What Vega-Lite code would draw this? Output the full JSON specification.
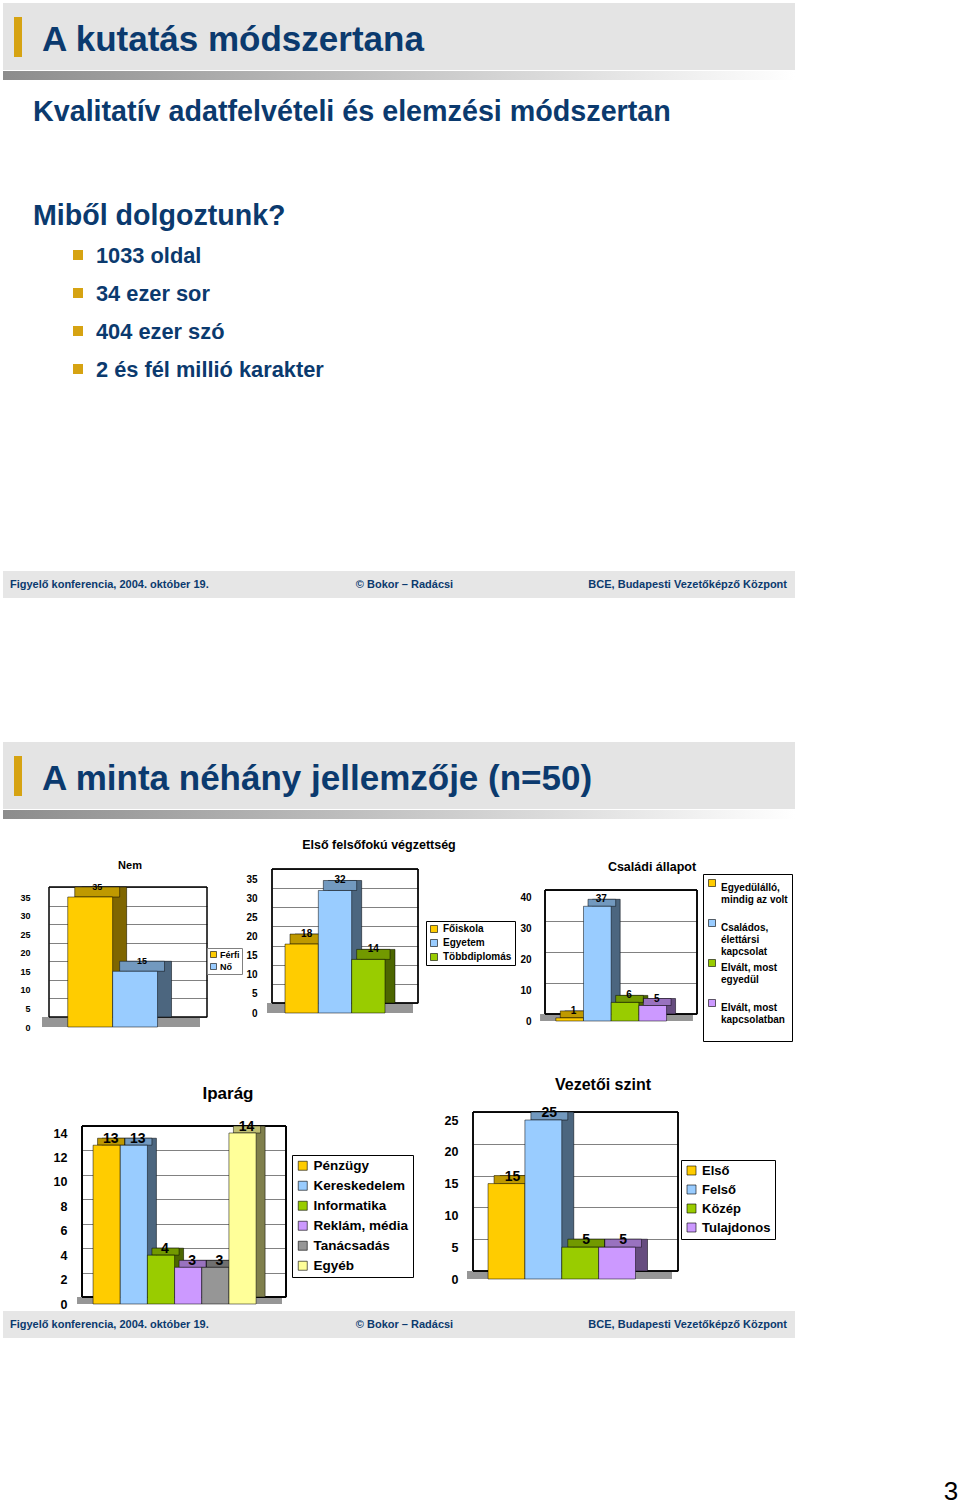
{
"$schema": "https://vega.github.io/schema/vega-lite/v6.json",
"background": "#FFFFFF",
"padding": 0,
"autosize": {"type": "pad"},
"spacing": 0,
"resolve": {"scale": {"color": "independent"}},
"config": {
  "font": "Liberation Sans",
  "view": {"stroke": null},
  "concat": {"spacing": 0},
  "axis": {"labelFont": "Liberation Sans", "labelFontWeight": "bold", "labelColor": "#000000", "gridColor": "#4A4A4A", "gridWidth": 0.7},
  "legend": {"labelFont": "Liberation Sans", "labelFontWeight": "bold", "labelColor": "#000000", "symbolType": "square", "symbolStrokeColor": "#000000", "symbolStrokeWidth": 0.6, "symbolOpacity": 1, "symbolFillOpacity": 1, "strokeColor": "#000000", "fillColor": "#FFFFFF", "labelOffset": 4},
  "title": {"font": "Liberation Sans", "fontWeight": "bold", "color": "#000000"}
},
"vconcat": [
  {"width": 795, "height": 3, "data": {"values": []}, "mark": "point"},
  {"hconcat": [
    {"width": 3, "height": 67, "data": {"values": []}, "mark": "point"},
    {"width": 11, "height": 67, "view": {"fill": "#E4E4E4", "stroke": null}, "data": {"values": []}, "mark": "point"},
    {"width": 8, "height": 67, "view": {"fill": "#E4E4E4", "stroke": null}, "data": {"values": [{"v": 1}]},
     "mark": {"type": "rect", "color": "#D6A312"},
     "encoding": {"y": {"field": "v", "type": "quantitative", "axis": null, "scale": {"domain": [0, 1], "range": [54, 14]}}, "y2": {"datum": 0}}},
    {"width": 773, "height": 67, "view": {"fill": "#E4E4E4", "stroke": null}, "data": {"values": []}, "mark": "point",
     "title": {"text": "A kutatás módszertana", "anchor": "start", "frame": "group", "dx": 20, "dy": 83, "offset": 0, "baseline": "alphabetic", "fontSize": 35, "fontWeight": "bold", "color": "#0B3A6E"}}
  ]},
  {"width": 795, "height": 1, "data": {"values": []}, "mark": "point"},
  {"hconcat": [
    {"width": 3, "height": 9, "data": {"values": []}, "mark": "point"},
    {"width": 792, "height": 9, "data": {"values": [{"sav": 1}]},
     "mark": {"type": "rect", "color": {"gradient": "linear", "x1": 0, "x2": 1, "y1": 0, "y2": 0, "stops": [{"offset": 0, "color": "#8C8C8C"}, {"offset": 1, "color": "#FFFFFF"}]}},
     "encoding": {}}
  ]},
  {"hconcat": [
    {"width": 3, "height": 491, "data": {"values": []}, "mark": "point"},
    {"width": 792, "height": 491,
     "title": {"text": "Kvalitatív adatfelvételi és elemzési módszertan", "anchor": "start", "frame": "group", "dx": 30, "dy": 70, "offset": 0, "baseline": "alphabetic", "fontSize": 28.7, "fontWeight": "bold", "color": "#0B3A6E"},
     "data": {"values": [
       {"sor": 0, "szint": 0, "szoveg": "Miből dolgoztunk?"},
       {"sor": 1, "szint": 1, "szoveg": "1033 oldal"},
       {"sor": 2, "szint": 1, "szoveg": "34 ezer sor"},
       {"sor": 3, "szint": 1, "szoveg": "404 ezer szó"},
       {"sor": 4, "szint": 1, "szoveg": "2 és fél millió karakter"}
     ]},
     "encoding": {
       "x": {"field": "szint", "type": "ordinal", "axis": null, "scale": {"type": "point", "domain": [0, 1], "range": [30, 93], "padding": 0}},
       "y": {"field": "sor", "type": "quantitative", "axis": null, "scale": {"domain": [0, 4], "range": [145, 297]}}
     },
     "layer": [
       {"transform": [{"filter": "datum.szint == 0"}], "mark": {"type": "text", "align": "left", "baseline": "alphabetic", "fontSize": 28.6, "fontWeight": "bold", "color": "#0B3A6E"}, "encoding": {"text": {"field": "szoveg"}}},
       {"transform": [{"filter": "datum.szint == 1"}], "mark": {"type": "text", "align": "left", "baseline": "alphabetic", "fontSize": 21.8, "fontWeight": "bold", "color": "#0B3A6E"}, "encoding": {"text": {"field": "szoveg"}}},
       {"transform": [{"filter": "datum.szint == 1"}], "mark": {"type": "square", "size": 100, "color": "#D6A312", "opacity": 1, "xOffset": -18, "yOffset": -8}}
     ]}
  ]},
  {"hconcat": [
    {"width": 3, "height": 27, "data": {"values": []}, "mark": "point"},
    {"width": 792, "height": 27, "view": {"fill": "#E6E6E6", "stroke": null},
     "data": {"values": [
       {"resz": "bal", "szoveg": "Figyelő konferencia, 2004. október 19."},
       {"resz": "közép", "szoveg": "© Bokor – Radácsi"},
       {"resz": "jobb", "szoveg": "BCE, Budapesti Vezetőképző Központ"}
     ]},
     "encoding": {"text": {"field": "szoveg"}},
     "layer": [
       {"transform": [{"filter": "datum.resz == 'bal'"}], "mark": {"type": "text", "align": "left", "baseline": "middle", "fontSize": 11, "fontWeight": "bold", "color": "#0B3A6E"},
        "encoding": {"x": {"field": "resz", "type": "nominal", "bandPosition": 0, "axis": null, "scale": {"type": "band", "domain": ["bal", "közép", "jobb"], "range": [7, 784], "paddingInner": 0, "paddingOuter": 0}}}},
       {"transform": [{"filter": "datum.resz == 'közép'"}], "mark": {"type": "text", "align": "center", "baseline": "middle", "xOffset": 6, "fontSize": 11, "fontWeight": "bold", "color": "#0B3A6E"},
        "encoding": {"x": {"field": "resz", "type": "nominal", "bandPosition": 0.5, "axis": null}}},
       {"transform": [{"filter": "datum.resz == 'jobb'"}], "mark": {"type": "text", "align": "right", "baseline": "middle", "fontSize": 11, "fontWeight": "bold", "color": "#0B3A6E"},
        "encoding": {"x": {"field": "resz", "type": "nominal", "bandPosition": 1, "axis": null}}}
     ]}
  ]},
  {"width": 795, "height": 144, "data": {"values": []}, "mark": "point"},
  {"hconcat": [
    {"width": 3, "height": 67, "data": {"values": []}, "mark": "point"},
    {"width": 11, "height": 67, "view": {"fill": "#E4E4E4", "stroke": null}, "data": {"values": []}, "mark": "point"},
    {"width": 8, "height": 67, "view": {"fill": "#E4E4E4", "stroke": null}, "data": {"values": [{"v": 1}]},
     "mark": {"type": "rect", "color": "#D6A312"},
     "encoding": {"y": {"field": "v", "type": "quantitative", "axis": null, "scale": {"domain": [0, 1], "range": [54, 14]}}, "y2": {"datum": 0}}},
    {"width": 773, "height": 67, "view": {"fill": "#E4E4E4", "stroke": null}, "data": {"values": []}, "mark": "point",
     "title": {"text": "A minta néhány jellemzője (n=50)", "anchor": "start", "frame": "group", "dx": 20, "dy": 83, "offset": 0, "baseline": "alphabetic", "fontSize": 35, "fontWeight": "bold", "color": "#0B3A6E"}}
  ]},
  {"width": 795, "height": 1, "data": {"values": []}, "mark": "point"},
  {"hconcat": [
    {"width": 3, "height": 9, "data": {"values": []}, "mark": "point"},
    {"width": 792, "height": 9, "data": {"values": [{"sav": 1}]},
     "mark": {"type": "rect", "color": {"gradient": "linear", "x1": 0, "x2": 1, "y1": 0, "y2": 0, "stops": [{"offset": 0, "color": "#8C8C8C"}, {"offset": 1, "color": "#FFFFFF"}]}},
     "encoding": {}}
  ]},
  {"hconcat": [
    {"width": 244, "height": 225,
     "title": {"text": "Nem", "frame": "group", "anchor": "middle", "fontSize": 11, "offset": 0, "dx": 8, "dy": 61, "baseline": "alphabetic"},
     "data": {"values": [{"kategoria": "Férfi", "fo": 35}, {"kategoria": "Nő", "fo": 15}]},
     "resolve": {"scale": {"x": "independent"}},
     "encoding": {"y": {"field": "fo", "type": "quantitative", "scale": {"domain": [0, 35], "nice": false, "range": [198, 68]},
       "axis": {"title": null, "values": [0, 5, 10, 15, 20, 25, 30, 35], "domain": false, "ticks": false, "offset": -35, "labelOffset": 10, "labelPadding": 5, "labelFontSize": 9, "grid": true}}},
     "layer": [
       {"encoding": {"x": {"datum": 0, "type": "quantitative", "axis": null, "scale": {"domain": [0, 1], "range": [49, 207]}}, "x2": {"datum": 1}},
        "layer": [
          {"mark": {"type": "rect", "color": "#969696", "xOffset": -7, "x2Offset": -7, "y2Offset": 10}, "encoding": {"y": {"datum": 0}, "y2": {"datum": 0}}},
          {"mark": {"type": "rect", "filled": false, "color": "#000000", "strokeWidth": 1}, "encoding": {"y": {"datum": 35}, "y2": {"datum": 0}}}
        ]},
       {"encoding": {
          "x": {"field": "kategoria", "type": "nominal", "sort": null, "axis": null, "scale": {"range": [49, 207], "paddingInner": 0, "paddingOuter": 0.76, "align": 0.48}},
          "color": {"field": "kategoria", "type": "nominal", "sort": null, "scale": {"domain": ["Férfi", "Nő"], "range": ["#FFCC00", "#99CCFF"]},
                    "legend": {"title": null, "orient": "none", "legendX": 207, "legendY": 129, "labelFontSize": 9, "symbolSize": 36, "rowPadding": 2, "padding": 2, "labelOffset": 2, "strokeColor": "#808080"}}},
        "layer": [
          {"mark": {"type": "bar"}},
          {"mark": {"type": "bar", "fillOpacity": 0.5, "stroke": "#000000", "strokeWidth": 0.5}, "encoding": {"color": {"value": "#000000"}}},
          {"mark": {"type": "bar", "xOffset": -7, "x2Offset": -7, "y2Offset": 10}, "encoding": {"y2": {"field": "fo"}}},
          {"mark": {"type": "bar", "fillOpacity": 0.25, "stroke": "#000000", "strokeWidth": 0.5, "xOffset": -7, "x2Offset": -7, "y2Offset": 10}, "encoding": {"y2": {"field": "fo"}, "color": {"value": "#000000"}}},
          {"mark": {"type": "bar", "stroke": "#000000", "strokeWidth": 0.5, "xOffset": -14, "x2Offset": -14, "yOffset": 10, "y2Offset": 10}},
          {"mark": {"type": "text", "fontSize": 9, "fontWeight": "bold", "dx": -7, "dy": 3, "baseline": "alphabetic"},
           "encoding": {"text": {"field": "fo", "type": "quantitative"}, "color": {"value": "#000000"}}}
        ]}
     ]},
    {"width": 274, "height": 225,
     "title": {"text": "Első felsőfokú végzettség", "frame": "group", "anchor": "middle", "fontSize": 12.5, "offset": 0, "dx": -2, "dy": 42.5, "baseline": "alphabetic"},
     "data": {"values": [{"kategoria": "Főiskola", "fo": 18}, {"kategoria": "Egyetem", "fo": 32}, {"kategoria": "Többdiplomás", "fo": 14}]},
     "resolve": {"scale": {"x": "independent"}},
     "encoding": {"y": {"field": "fo", "type": "quantitative", "scale": {"domain": [0, 35], "nice": false, "range": [184, 50]},
       "axis": {"title": null, "values": [0, 5, 10, 15, 20, 25, 30, 35], "domain": false, "ticks": false, "offset": -18, "labelOffset": 10, "labelPadding": 5, "labelFontSize": 10, "grid": true}}},
     "layer": [
       {"encoding": {"x": {"datum": 0, "type": "quantitative", "axis": null, "scale": {"domain": [0, 1], "range": [28, 174]}}, "x2": {"datum": 1}},
        "layer": [
          {"mark": {"type": "rect", "color": "#969696", "xOffset": -5, "x2Offset": -5, "y2Offset": 10}, "encoding": {"y": {"datum": 0}, "y2": {"datum": 0}}},
          {"mark": {"type": "rect", "filled": false, "color": "#000000", "strokeWidth": 1}, "encoding": {"y": {"datum": 35}, "y2": {"datum": 0}}}
        ]},
       {"encoding": {
          "x": {"field": "kategoria", "type": "nominal", "sort": null, "axis": null, "scale": {"range": [28, 174], "paddingInner": 0, "paddingOuter": 0.69, "align": 0.5}},
          "color": {"field": "kategoria", "type": "nominal", "sort": null, "scale": {"domain": ["Főiskola", "Egyetem", "Többdiplomás"], "range": ["#FFCC00", "#99CCFF", "#99CC00"]},
                    "legend": {"title": null, "orient": "none", "legendX": 182, "legendY": 102, "labelFontSize": 10, "symbolSize": 49, "rowPadding": 4, "padding": 3}}},
        "layer": [
          {"mark": {"type": "bar"}},
          {"mark": {"type": "bar", "fillOpacity": 0.5, "stroke": "#000000", "strokeWidth": 0.5}, "encoding": {"color": {"value": "#000000"}}},
          {"mark": {"type": "bar", "xOffset": -5, "x2Offset": -5, "y2Offset": 10}, "encoding": {"y2": {"field": "fo"}}},
          {"mark": {"type": "bar", "fillOpacity": 0.25, "stroke": "#000000", "strokeWidth": 0.5, "xOffset": -5, "x2Offset": -5, "y2Offset": 10}, "encoding": {"y2": {"field": "fo"}, "color": {"value": "#000000"}}},
          {"mark": {"type": "bar", "stroke": "#000000", "strokeWidth": 0.5, "xOffset": -10, "x2Offset": -10, "yOffset": 10, "y2Offset": 10}},
          {"mark": {"type": "text", "fontSize": 10, "fontWeight": "bold", "dx": -5, "dy": 3, "baseline": "alphabetic"},
           "encoding": {"text": {"field": "fo", "type": "quantitative"}, "color": {"value": "#000000"}}}
        ]}
     ]},
    {"width": 277, "height": 225,
     "title": {"text": "Családi állapot", "frame": "group", "anchor": "middle", "fontSize": 12.5, "offset": 0, "dx": -4.5, "dy": 64.5, "baseline": "alphabetic"},
     "data": {"values": [{"kategoria": "Egyedülálló, mindig az volt", "fo": 1}, {"kategoria": "Családos, élettársi kapcsolat", "fo": 37}, {"kategoria": "Elvált, most egyedül", "fo": 6}, {"kategoria": "Elvált, most kapcsolatban", "fo": 5}]},
     "resolve": {"scale": {"x": "independent"}},
     "encoding": {"y": {"field": "fo", "type": "quantitative", "scale": {"domain": [0, 40], "nice": false, "range": [195, 71]},
       "axis": {"title": null, "values": [0, 10, 20, 30, 40], "domain": false, "ticks": false, "offset": -18, "labelOffset": 7, "labelPadding": 5, "labelFontSize": 10, "grid": true}}},
     "layer": [
       {"encoding": {"x": {"datum": 0, "type": "quantitative", "axis": null, "scale": {"domain": [0, 1], "range": [27, 179]}}, "x2": {"datum": 1}},
        "layer": [
          {"mark": {"type": "rect", "color": "#969696", "xOffset": -4.5, "x2Offset": -4.5, "y2Offset": 7}, "encoding": {"y": {"datum": 0}, "y2": {"datum": 0}}},
          {"mark": {"type": "rect", "filled": false, "color": "#000000", "strokeWidth": 1}, "encoding": {"y": {"datum": 40}, "y2": {"datum": 0}}}
        ]},
       {"encoding": {
          "x": {"field": "kategoria", "type": "nominal", "sort": null, "axis": null, "scale": {"range": [27, 179], "paddingInner": 0, "paddingOuter": 0.745, "align": 0.48}},
          "color": {"field": "kategoria", "type": "nominal", "sort": null, "scale": {"domain": ["Egyedülálló, mindig az volt", "Családos, élettársi kapcsolat", "Elvált, most egyedül", "Elvált, most kapcsolatban"], "range": ["#FFCC00", "#99CCFF", "#99CC00", "#CC99FF"]},
                    "legend": {"title": null, "orient": "none", "legendX": 185, "legendY": 55, "labelFontSize": 10, "symbolSize": 49, "rowPadding": 1, "padding": 4, "labelBaseline": "top",
                               "labelExpr": "datum.label == 'Egyedülálló, mindig az volt' ? ['Egyedülálló,', 'mindig az volt', ''] : datum.label == 'Családos, élettársi kapcsolat' ? ['Családos,', 'élettársi', 'kapcsolat'] : datum.label == 'Elvált, most egyedül' ? ['Elvált, most', 'egyedül', ''] : ['Elvált, most', 'kapcsolatban', '']"}}},
        "layer": [
          {"mark": {"type": "bar"}},
          {"mark": {"type": "bar", "fillOpacity": 0.5, "stroke": "#000000", "strokeWidth": 0.5}, "encoding": {"color": {"value": "#000000"}}},
          {"mark": {"type": "bar", "xOffset": -4.5, "x2Offset": -4.5, "y2Offset": 7}, "encoding": {"y2": {"field": "fo"}}},
          {"mark": {"type": "bar", "fillOpacity": 0.25, "stroke": "#000000", "strokeWidth": 0.5, "xOffset": -4.5, "x2Offset": -4.5, "y2Offset": 7}, "encoding": {"y2": {"field": "fo"}, "color": {"value": "#000000"}}},
          {"mark": {"type": "bar", "stroke": "#000000", "strokeWidth": 0.5, "xOffset": -9, "x2Offset": -9, "yOffset": 7, "y2Offset": 7}},
          {"mark": {"type": "text", "fontSize": 10, "fontWeight": "bold", "dx": -5, "dy": 3, "baseline": "alphabetic"},
           "encoding": {"text": {"field": "fo", "type": "quantitative"}, "color": {"value": "#000000"}}}
        ]}
     ]}
  ], "resolve": {"scale": {"color": "independent"}}},
  {"hconcat": [
    {"width": 430, "height": 265,
     "title": {"text": "Iparág", "frame": "group", "anchor": "middle", "fontSize": 17, "offset": 0, "dx": 13, "dy": 72, "baseline": "alphabetic"},
     "data": {"values": [{"kategoria": "Pénzügy", "fo": 13}, {"kategoria": "Kereskedelem", "fo": 13}, {"kategoria": "Informatika", "fo": 4}, {"kategoria": "Reklám, média", "fo": 3}, {"kategoria": "Tanácsadás", "fo": 3}, {"kategoria": "Egyéb", "fo": 14}]},
     "resolve": {"scale": {"x": "independent"}},
     "encoding": {"y": {"field": "fo", "type": "quantitative", "scale": {"domain": [0, 14], "nice": false, "range": [253, 82]},
       "axis": {"title": null, "values": [0, 2, 4, 6, 8, 10, 12, 14], "domain": false, "ticks": false, "offset": -73, "labelOffset": 7, "labelPadding": 6, "labelFontSize": 12.5, "grid": true}}},
     "layer": [
       {"encoding": {"x": {"datum": 0, "type": "quantitative", "axis": null, "scale": {"domain": [0, 1], "range": [82, 286]}}, "x2": {"datum": 1}},
        "layer": [
          {"mark": {"type": "rect", "color": "#969696", "xOffset": -4.5, "x2Offset": -4.5, "y2Offset": 7}, "encoding": {"y": {"datum": 0}, "y2": {"datum": 0}}},
          {"mark": {"type": "rect", "filled": false, "color": "#000000", "strokeWidth": 1}, "encoding": {"y": {"datum": 14}, "y2": {"datum": 0}}}
        ]},
       {"encoding": {
          "x": {"field": "kategoria", "type": "nominal", "sort": null, "axis": null, "scale": {"range": [82, 286], "paddingInner": 0, "paddingOuter": 0.754, "align": 0.49}},
          "color": {"field": "kategoria", "type": "nominal", "sort": null, "scale": {"domain": ["Pénzügy", "Kereskedelem", "Informatika", "Reklám, média", "Tanácsadás", "Egyéb"], "range": ["#FFCC00", "#99CCFF", "#99CC00", "#CC99FF", "#969696", "#FFFF99"]},
                    "legend": {"title": null, "orient": "none", "legendX": 292, "legendY": 111, "labelFontSize": 13.5, "symbolSize": 81, "rowPadding": 5, "padding": 4}}},
        "layer": [
          {"mark": {"type": "bar"}},
          {"mark": {"type": "bar", "fillOpacity": 0.5, "stroke": "#000000", "strokeWidth": 0.5}, "encoding": {"color": {"value": "#000000"}}},
          {"mark": {"type": "bar", "xOffset": -4.5, "x2Offset": -4.5, "y2Offset": 7}, "encoding": {"y2": {"field": "fo"}}},
          {"mark": {"type": "bar", "fillOpacity": 0.25, "stroke": "#000000", "strokeWidth": 0.5, "xOffset": -4.5, "x2Offset": -4.5, "y2Offset": 7}, "encoding": {"y2": {"field": "fo"}, "color": {"value": "#000000"}}},
          {"mark": {"type": "bar", "stroke": "#000000", "strokeWidth": 0.5, "xOffset": -9, "x2Offset": -9, "yOffset": 7, "y2Offset": 7}},
          {"mark": {"type": "text", "fontSize": 14, "fontWeight": "bold", "dx": -5, "dy": 5, "baseline": "alphabetic"},
           "encoding": {"text": {"field": "fo", "type": "quantitative"}, "color": {"value": "#000000"}}}
        ]}
     ]},
    {"width": 365, "height": 265,
     "title": {"text": "Vezetői szint", "frame": "group", "anchor": "middle", "fontSize": 16, "offset": 0, "dx": -9.5, "dy": 62, "baseline": "alphabetic"},
     "data": {"values": [{"kategoria": "Első", "fo": 15}, {"kategoria": "Felső", "fo": 25}, {"kategoria": "Közép", "fo": 5}, {"kategoria": "Tulajdonos", "fo": 5}]},
     "resolve": {"scale": {"x": "independent"}},
     "encoding": {"y": {"field": "fo", "type": "quantitative", "scale": {"domain": [0, 25], "nice": false, "range": [227, 68]},
       "axis": {"title": null, "values": [0, 5, 10, 15, 20, 25], "domain": false, "ticks": false, "offset": -31, "labelOffset": 8, "labelPadding": 3, "labelFontSize": 12.5, "grid": true}}},
     "layer": [
       {"encoding": {"x": {"datum": 0, "type": "quantitative", "axis": null, "scale": {"domain": [0, 1], "range": [43, 248]}}, "x2": {"datum": 1}},
        "layer": [
          {"mark": {"type": "rect", "color": "#969696", "xOffset": -6, "x2Offset": -6, "y2Offset": 8}, "encoding": {"y": {"datum": 0}, "y2": {"datum": 0}}},
          {"mark": {"type": "rect", "filled": false, "color": "#000000", "strokeWidth": 1}, "encoding": {"y": {"datum": 25}, "y2": {"datum": 0}}}
        ]},
       {"encoding": {
          "x": {"field": "kategoria", "type": "nominal", "sort": null, "axis": null, "scale": {"range": [43, 248], "paddingInner": 0, "paddingOuter": 0.78, "align": 0.47}},
          "color": {"field": "kategoria", "type": "nominal", "sort": null, "scale": {"domain": ["Első", "Felső", "Közép", "Tulajdonos"], "range": ["#FFCC00", "#99CCFF", "#99CC00", "#CC99FF"]},
                    "legend": {"title": null, "orient": "none", "legendX": 251, "legendY": 116, "labelFontSize": 13, "symbolSize": 81, "rowPadding": 5, "padding": 4}}},
        "layer": [
          {"mark": {"type": "bar"}},
          {"mark": {"type": "bar", "fillOpacity": 0.5, "stroke": "#000000", "strokeWidth": 0.5}, "encoding": {"color": {"value": "#000000"}}},
          {"mark": {"type": "bar", "xOffset": -6, "x2Offset": -6, "y2Offset": 8}, "encoding": {"y2": {"field": "fo"}}},
          {"mark": {"type": "bar", "fillOpacity": 0.25, "stroke": "#000000", "strokeWidth": 0.5, "xOffset": -6, "x2Offset": -6, "y2Offset": 8}, "encoding": {"y2": {"field": "fo"}, "color": {"value": "#000000"}}},
          {"mark": {"type": "bar", "stroke": "#000000", "strokeWidth": 0.5, "xOffset": -12, "x2Offset": -12, "yOffset": 8, "y2Offset": 8}},
          {"mark": {"type": "text", "fontSize": 14, "fontWeight": "bold", "dx": -6, "dy": 5, "baseline": "alphabetic"},
           "encoding": {"text": {"field": "fo", "type": "quantitative"}, "color": {"value": "#000000"}}}
        ]}
     ]}
  ], "resolve": {"scale": {"color": "independent"}}},
  {"hconcat": [
    {"width": 3, "height": 27, "data": {"values": []}, "mark": "point"},
    {"width": 792, "height": 27, "view": {"fill": "#E6E6E6", "stroke": null},
     "data": {"values": [
       {"resz": "bal", "szoveg": "Figyelő konferencia, 2004. október 19."},
       {"resz": "közép", "szoveg": "© Bokor – Radácsi"},
       {"resz": "jobb", "szoveg": "BCE, Budapesti Vezetőképző Központ"}
     ]},
     "encoding": {"text": {"field": "szoveg"}},
     "layer": [
       {"transform": [{"filter": "datum.resz == 'bal'"}], "mark": {"type": "text", "align": "left", "baseline": "middle", "fontSize": 11, "fontWeight": "bold", "color": "#0B3A6E"},
        "encoding": {"x": {"field": "resz", "type": "nominal", "bandPosition": 0, "axis": null, "scale": {"type": "band", "domain": ["bal", "közép", "jobb"], "range": [7, 784], "paddingInner": 0, "paddingOuter": 0}}}},
       {"transform": [{"filter": "datum.resz == 'közép'"}], "mark": {"type": "text", "align": "center", "baseline": "middle", "xOffset": 6, "fontSize": 11, "fontWeight": "bold", "color": "#0B3A6E"},
        "encoding": {"x": {"field": "resz", "type": "nominal", "bandPosition": 0.5, "axis": null}}},
       {"transform": [{"filter": "datum.resz == 'jobb'"}], "mark": {"type": "text", "align": "right", "baseline": "middle", "fontSize": 11, "fontWeight": "bold", "color": "#0B3A6E"},
        "encoding": {"x": {"field": "resz", "type": "nominal", "bandPosition": 1, "axis": null}}}
     ]}
  ]},
  {"width": 795, "height": 140, "data": {"values": []}, "mark": "point"},
  {"hconcat": [
    {"width": 936, "height": 28, "data": {"values": []}, "mark": "point"},
    {"width": 24, "height": 28, "data": {"values": [{"oldal": "3"}]},
     "mark": {"type": "text", "fontSize": 26, "color": "#000000", "baseline": "middle", "align": "center", "dx": 3},
     "encoding": {"text": {"field": "oldal"}}}
  ]}
]
}
